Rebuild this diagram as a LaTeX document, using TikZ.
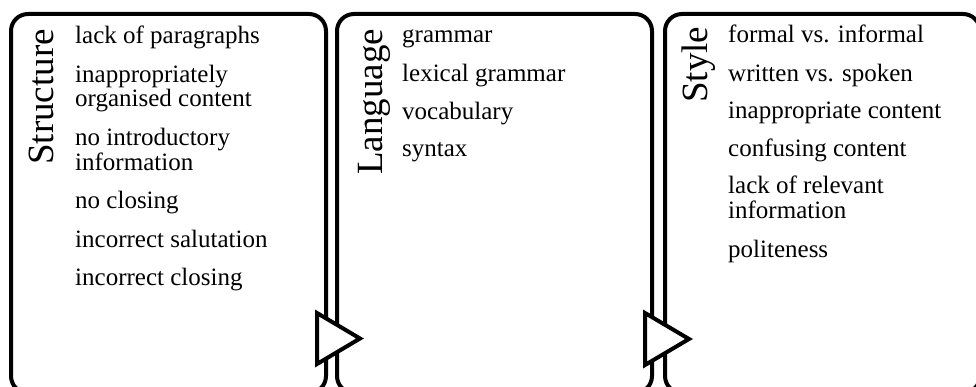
\documentclass[tikz,border=0pt]{standalone}
\usepackage{fontspec}
\setmainfont{Liberation Serif}
\begin{document}
\begin{tikzpicture}[x=1pt,y=-1pt,
  panel/.style={draw=black, line width=4pt, rounded corners=17pt, rectangle, inner sep=0pt,
    minimum width=315pt, minimum height=379pt, fill=white},
  tri/.style={draw=black, line width=4pt, fill=white, line join=miter},
  item/.style={anchor=base west, inner sep=0pt, font=\fontsize{25}{24.5}\selectfont},
  title/.style={anchor=base west, inner sep=0pt, rotate=90, font=\fontsize{37}{37}\selectfont}]
\useasboundingbox (0,0) rectangle (976,387);
\clip (0,0) rectangle (976,387);
% panels
\node[panel] (b1) at (168.5,203.5) {};
\node[panel] (b2) at (494.5,203.5) {};
\node[panel] (b3) at (822.5,203.5) {};
% arrows between panels
\draw[tri] (317,313) -- (317,364) -- (360,338.5) -- cycle;
\draw[tri] (645,313) -- (645,365) -- (689,339) -- cycle;
% titles
\node[title] (t1) at (53,165) {Structure};
\node[title] (t2) at (382,175) {Language};
\node[title] (t3) at (707,103) {Style};
% structure items
\node[item] (s1) at (75,44) {lack of paragraphs};
\node[item] (s2a) at (75,82.5) {inappropriately};
\node[item] (s2b) at (75,107) {organised content};
\node[item] (s3a) at (75,146) {no introductory};
\node[item] (s3b) at (75,170.5) {information};
\node[item] (s4) at (75,209) {no closing};
\node[item] (s5) at (75,247.5) {incorrect salutation};
\node[item] (s6) at (75,285.5) {incorrect closing};
% language items
\node[item] (l1) at (402,43) {grammar};
\node[item] (l2) at (402,82) {lexical grammar};
\node[item] (l3) at (402,120) {vocabulary};
\node[item] (l4) at (402,157) {syntax};
% style items
\node[item] (y1) at (728,43) {formal vs. informal};
\node[item] (y2) at (728,82) {written vs. spoken};
\node[item] (y3) at (728,119) {inappropriate content};
\node[item] (y4) at (728,157) {confusing content};
\node[item] (y5a) at (728,194) {lack of relevant};
\node[item] (y5b) at (728,218.5) {information};
\node[item] (y6) at (728,257) {politeness};
\end{tikzpicture}
\end{document}
